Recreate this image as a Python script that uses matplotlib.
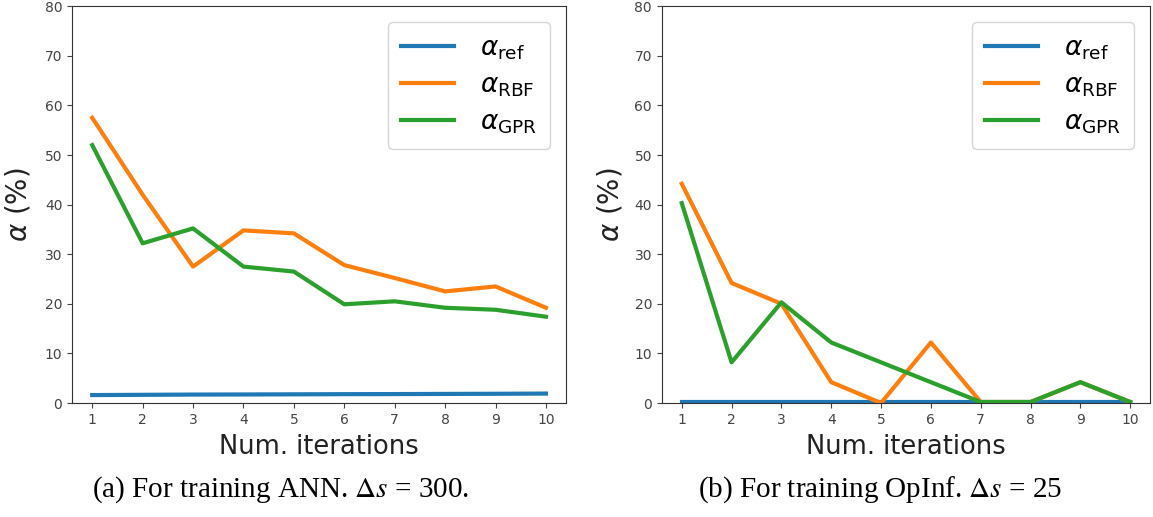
import matplotlib.pyplot as plt

iters = list(range(1, 11))

# (a) ANN
ann_ref = [1.6, 1.65, 1.7, 1.72, 1.75, 1.78, 1.8, 1.83, 1.86, 1.9]
ann_rbf = [57.5, 42.0, 27.5, 34.8, 34.2, 27.8, 25.2, 22.5, 23.5, 19.2]
ann_gpr = [52.0, 32.2, 35.2, 27.5, 26.5, 19.9, 20.5, 19.2, 18.8, 17.4]

# (b) OpInf
op_ref = [0.3] * 10
op_rbf = [44.2, 24.2, 20.0, 4.2, 0.0, 12.2, 0.2, 0.2, 4.2, 0.2]
op_gpr = [40.3, 8.2, 20.3, 12.2, 8.2, 4.2, 0.2, 0.2, 4.2, 0.2]

captions = [r'(a) For training ANN. $\Delta s$ = 300.',
            r'(b) For training OpInf. $\Delta s$ = 25']

labels = [r'$\alpha_{\rm ref}$', r'$\alpha_{\rm RBF}$', r'$\alpha_{\rm GPR}$']
colors = ['#1f77b4', '#ff7f0e', '#2ca02c']

fig = plt.figure(figsize=(11.53, 5.17), dpi=100)
ax1 = fig.add_axes([0.0625, 0.2205, 0.4285, 0.7675])
ax2 = fig.add_axes([0.574, 0.2205, 0.4235, 0.7675])

for ax, series, cap, cx, ylx in [(ax1, (ann_ref, ann_rbf, ann_gpr), captions[0], 0.243, -0.08),
                                 (ax2, (op_ref, op_rbf, op_gpr), captions[1], 0.763, -0.076)]:
    for y, lab, c in zip(series, labels, colors):
        ax.plot(iters, y, color=c, lw=3, label=lab)
    ax.set_ylim(0, 80)
    ax.set_xlim(0.6, 10.4)
    ax.set_xticks(iters)
    ax.set_yticks(range(0, 81, 10))
    ax.tick_params(labelsize=10, colors='#444444', labelcolor='#444444')
    for s in ax.spines.values():
        s.set_color('#333333')
    ax.set_xlabel('Num. iterations', fontsize=18.5, color='#222222')
    ax.xaxis.set_label_coords(0.5, -0.078)
    ax.set_ylabel(r'$\alpha$ (%)', fontsize=20, color='#222222')
    ax.yaxis.set_label_coords(ylx, 0.5)
    ax.legend(loc='upper right', fontsize=19, handlelength=2.0,
              handletextpad=1.0, borderpad=0.5, labelspacing=0.4,
              borderaxespad=0.6)
    fig.text(cx, 0.052, cap, ha='center', va='center',
             fontsize=21, family='Liberation Serif', math_fontfamily='stix')

fig.savefig('out.png', dpi=100)
